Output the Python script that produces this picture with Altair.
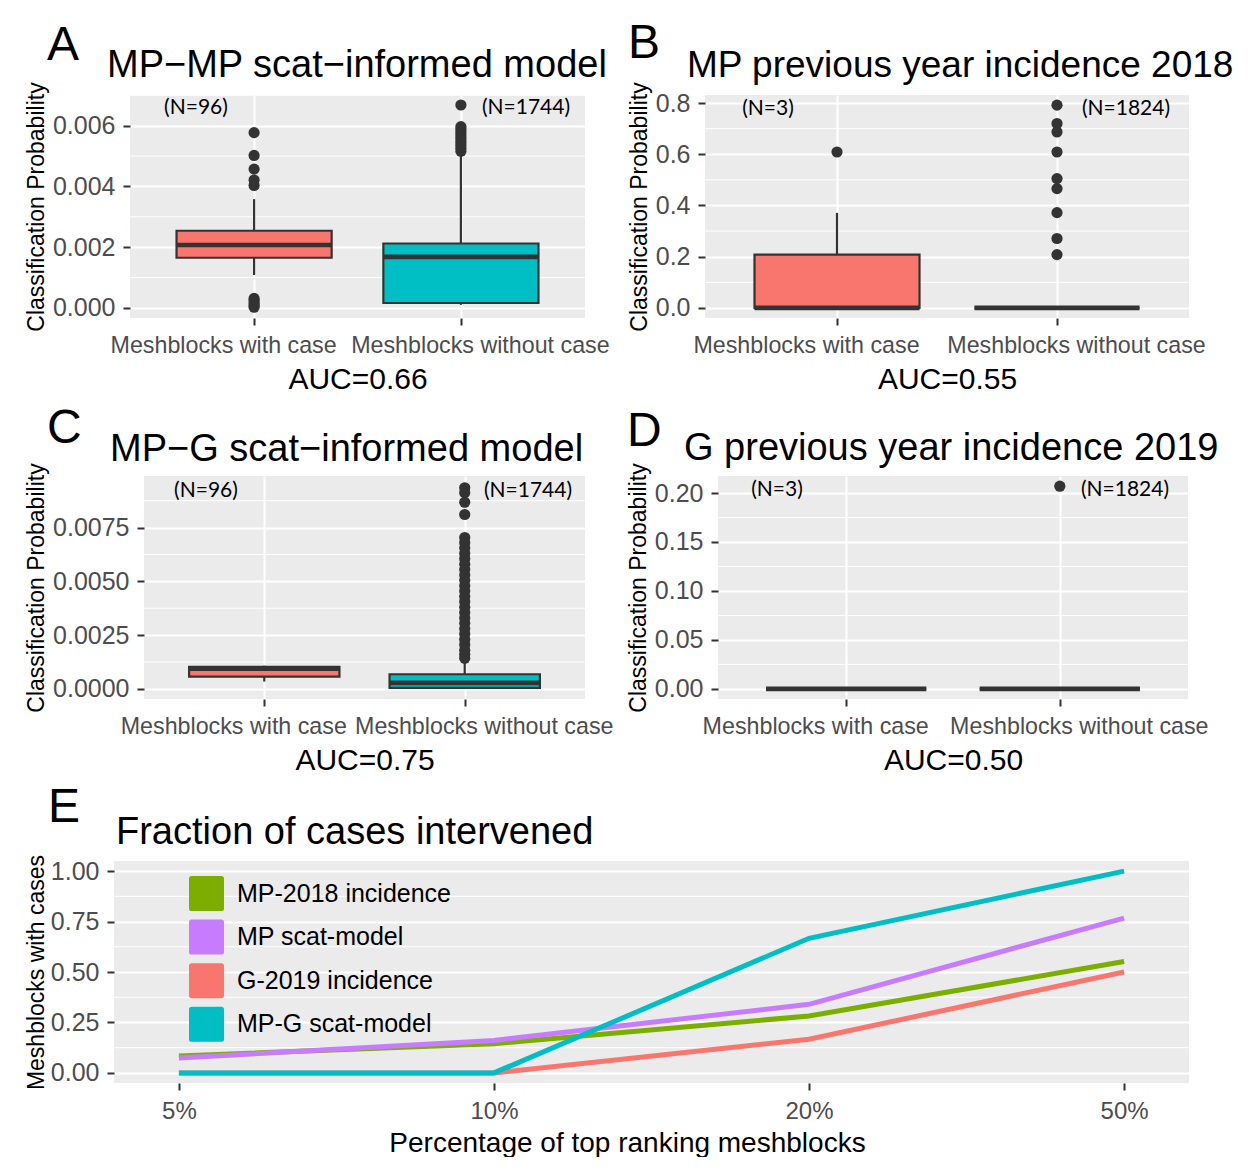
import altair as alt
import pandas as pd

FONT = "Liberation Sans"
NFONT = "Lato"
DARK = "#333333"
BG = "#EBEBEB"

# ---------------- data ----------------
groups = ["Meshblocks with case", "Meshblocks without case"]
group_pos = [1, 2]
group_fill = ["#F8766D", "#00BFC4"]

# Panel A: MP-MP scat-informed model
A_q1 = [0.00165, 0.00016]
A_med = [0.00207, 0.00168]
A_q3 = [0.00254, 0.00212]
A_lo = [0.00108, 0.00010]
A_hi = [0.00358, 0.00503]
A_out_case = [0.00577, 0.00502, 0.00457, 0.00421, 0.00403,
              0.00031, 0.00024, 0.00016, 0.00009, 0.00002]
A_out_nocase = [0.00668, 0.00597, 0.00589, 0.00580, 0.00571, 0.00562,
                0.00553, 0.00544, 0.00535, 0.00526, 0.00516]
A_n = ["(N=96)", "(N=1744)"]

# Panel B: MP previous year incidence 2018
B_q1 = [0.0, 0.0]
B_med = [0.0, 0.0]
B_q3 = [0.208, 0.0]
B_lo = [0.0, 0.0]
B_hi = [0.371, 0.0]
B_out_case = [0.609]
B_out_nocase = [0.792, 0.720, 0.687, 0.609, 0.505, 0.466, 0.372, 0.271, 0.208]
B_n = ["(N=3)", "(N=1824)"]

# Panel C: MP-G scat-informed model
C_q1 = [0.00057, 0.00005]
C_med = [0.00094, 0.00028]
C_q3 = [0.00103, 0.00068]
C_lo = [0.00034, 0.00002]
C_hi = [0.00108, 0.00127]
C_out_case = []
C_out_nocase = [0.00935, 0.00912, 0.00868, 0.00811,
                0.00704, 0.00680, 0.00655, 0.00630, 0.00605, 0.00580,
                0.00555, 0.00530, 0.00505, 0.00480, 0.00455, 0.00430,
                0.00405, 0.00380, 0.00355, 0.00330, 0.00305, 0.00280,
                0.00255, 0.00230, 0.00205, 0.00180, 0.00160, 0.00142]
C_n = ["(N=96)", "(N=1744)"]

# Panel D: G previous year incidence 2019
D_q1 = [0.0, 0.0]
D_med = [0.0, 0.0]
D_q3 = [0.0, 0.0]
D_lo = [0.0, 0.0]
D_hi = [0.0, 0.0]
D_out_case = []
D_out_nocase = [0.207]
D_n = ["(N=3)", "(N=1824)"]

# Panel E: Fraction of cases intervened
pct_labels = ["5%", "10%", "20%", "50%"]
series_names = ["MP-2018 incidence", "MP scat-model", "G-2019 incidence", "MP-G scat-model"]
series_colors = ["#7CAE00", "#C77CFF", "#F8766D", "#00BFC4"]
E_mp2018 = [0.084, 0.145, 0.282, 0.552]
E_mpscat = [0.074, 0.161, 0.340, 0.767]
E_g2019 = [0.0, 0.0, 0.167, 0.500]
E_mpg = [0.0, 0.0, 0.667, 1.000]

# ---------------- helpers ----------------
HALF_BOX = 0.375


def one_row(**kw):
    return pd.DataFrame({k: [v] for k, v in kw.items()})


def spacer():
    return alt.Chart(one_row(t="")).mark_text().encode(text="t:N").properties(
        width=1, height=1, view=alt.ViewBackground(fillOpacity=0, strokeOpacity=0))


def box_panel(letter, title, q1, med, q3, lo, hi, out_case, out_nocase, ntext, auc,
              ydom, ymajor, yminor, yfmt, w, h, lay):
    summ = pd.DataFrame({"group": groups, "pos": group_pos, "fill": group_fill,
                         "q1": q1, "med": med, "q3": q3, "lo": lo, "hi": hi})
    outl = pd.DataFrame({"pos": [1] * len(out_case) + [2] * len(out_nocase),
                         "value": out_case + out_nocase})
    minor = pd.DataFrame({"v": yminor})
    xs = alt.Scale(domain=[0.4, 2.6], nice=False, zero=False)
    ys = alt.Scale(domain=ydom, nice=False, zero=False)
    lab_expr = "datum.value == 1 ? '%s' : '%s'" % (groups[0], groups[1])
    xaxis = alt.Axis(values=group_pos, labelExpr=lab_expr, title=auc,
                     labelFontSize=23.25, titleFontSize=30, titlePadding=8,
                     labelPadding=9, labelLimit=500,
                     labelOffset={"condition": {"test": "datum.value == 1", "value": -31},
                                  "value": 19})
    yaxis = alt.Axis(values=ymajor, format=yfmt, title="Classification Probability",
                     titleFontSize=23, titlePadding=4, labelFontSize=25, labelPadding=8)

    base = alt.Chart(summ)
    l_minor = alt.Chart(minor).mark_rule(color="white", strokeWidth=1).encode(
        y=alt.Y("v:Q", scale=ys, axis=yaxis))
    l_wlo = base.mark_rule(color=DARK, strokeWidth=2.2).encode(
        x=alt.X("pos:Q", scale=xs, axis=xaxis),
        y=alt.Y("lo:Q", scale=ys, axis=yaxis), y2="q1:Q")
    l_whi = base.mark_rule(color=DARK, strokeWidth=2.2).encode(
        x=alt.X("pos:Q", scale=xs, axis=xaxis),
        y=alt.Y("q3:Q", scale=ys, axis=yaxis), y2="hi:Q")
    l_box = base.transform_calculate(
        xl="datum.pos - %s" % HALF_BOX, xr="datum.pos + %s" % HALF_BOX
    ).mark_rect(stroke=DARK, strokeWidth=2.2).encode(
        x=alt.X("xl:Q", scale=xs, axis=xaxis), x2="xr:Q",
        y=alt.Y("q1:Q", scale=ys, axis=yaxis), y2="q3:Q",
        fill=alt.Fill("fill:N", scale=None))
    l_med = base.transform_calculate(
        xl="datum.pos - %s" % HALF_BOX, xr="datum.pos + %s" % HALF_BOX
    ).mark_rule(color=DARK, strokeWidth=4.6).encode(
        x=alt.X("xl:Q", scale=xs, axis=xaxis), x2="xr:Q",
        y=alt.Y("med:Q", scale=ys, axis=yaxis))
    layers = [l_minor, l_wlo, l_whi, l_box, l_med]
    if len(outl):
        l_out = alt.Chart(outl).mark_circle(color=DARK, opacity=1, size=125).encode(
            x=alt.X("pos:Q", scale=xs, axis=xaxis),
            y=alt.Y("value:Q", scale=ys, axis=yaxis))
        layers.append(l_out)
    for i, t in enumerate(ntext):
        layers.append(alt.Chart(one_row(t=t)).mark_text(
            font=NFONT, fontSize=21, color="black", align="center", baseline="middle"
        ).encode(text="t:N", x=alt.value(lay["nx"][i]), y=alt.value(lay["ny"])))
    layers.append(alt.Chart(one_row(t=letter)).mark_text(
        font=FONT, fontSize=48, color="black", align="left", baseline="alphabetic"
    ).encode(text="t:N", x=alt.value(lay["lx"]), y=alt.value(lay["ly"])))
    layers.append(alt.Chart(one_row(t=title)).mark_text(
        font=FONT, fontSize=lay.get("tf", 38), color="black", align="left",
        baseline="alphabetic"
    ).encode(text="t:N", x=alt.value(lay["tx"]), y=alt.value(lay["ty"])))
    return alt.layer(*layers).properties(width=w, height=h)


pA = box_panel("A", "MP\u2212MP scat\u2212informed model", A_q1, A_med, A_q3, A_lo, A_hi,
               A_out_case, A_out_nocase, A_n, "AUC=0.66",
               [-0.000334, 0.00701], [0, 0.002, 0.004, 0.006], [0.001, 0.003, 0.005, 0.007],
               ".3f", 455, 223,
               dict(nx=[66, 396], ny=13, lx=-83, ly=-35, tx=-23, ty=-18))
pB = box_panel("B", "MP previous year incidence 2018", B_q1, B_med, B_q3, B_lo, B_hi,
               B_out_case, B_out_nocase, B_n, "AUC=0.55",
               [-0.0396, 0.8316], [0, 0.2, 0.4, 0.6, 0.8], [0.1, 0.3, 0.5, 0.7],
               ".1f", 484, 223,
               dict(nx=[63, 421], ny=14, lx=-77, ly=-37, tx=-18, ty=-18, tf=37))
pC = box_panel("C", "MP\u2212G scat\u2212informed model", C_q1, C_med, C_q3, C_lo, C_hi,
               C_out_case, C_out_nocase, C_n, "AUC=0.75",
               [-0.00047, 0.00990], [0, 0.0025, 0.005, 0.0075], [0.00125, 0.00375, 0.00625, 0.00875],
               ".4f", 441, 223,
               dict(nx=[62, 384], ny=15, lx=-97, ly=-33, tx=-34, ty=-15))
pD = box_panel("D", "G previous year incidence 2019", D_q1, D_med, D_q3, D_lo, D_hi,
               D_out_case, D_out_nocase, D_n, "AUC=0.50",
               [-0.01035, 0.2174], [0, 0.05, 0.1, 0.15, 0.2], [0.025, 0.075, 0.125, 0.175],
               ".2f", 470, 223,
               dict(nx=[59, 407], ny=14, lx=-91, ly=-30, tx=-34, ty=-16))

# ---------------- panel E ----------------
rows = []
for name, vals in zip(series_names, [E_mp2018, E_mpscat, E_g2019, E_mpg]):
    for i, (p, v) in enumerate(zip(pct_labels, vals)):
        rows.append({"series": name, "pct": p, "value": v, "i": i})
edf = pd.DataFrame(rows)

ex = alt.Scale(type="point", domain=pct_labels, padding=0.206)
ey = alt.Scale(domain=[-0.05, 1.05], nice=False, zero=False)
ex_axis = alt.Axis(title="Percentage of top ranking meshblocks", labelAngle=0,
                   labelFontSize=24, titleFontSize=28, labelPadding=9, titlePadding=6,
                   titleX=513)
ey_axis = alt.Axis(values=[0, 0.25, 0.5, 0.75, 1.0], format=".2f",
                   title="Meshblocks with cases", titleFontSize=23, titlePadding=2,
                   labelFontSize=25, labelPadding=8)
rounded_sq = ("M-0.85,-1L0.85,-1Q1,-1 1,-0.85L1,0.85Q1,1 0.85,1L-0.85,1"
              "Q-1,1 -1,0.85L-1,-0.85Q-1,-1 -0.85,-1Z")
ecolor = alt.Color("series:N", sort=series_names,
                   scale=alt.Scale(domain=series_names, range=series_colors),
                   legend=alt.Legend(title=None, orient="none", legendX=75, legendY=15,
                                     symbolType=rounded_sq, symbolSize=1225,
                                     symbolStrokeWidth=0,
                                     labelFontSize=25, labelFont=FONT, labelColor="black",
                                     labelOffset=13, rowPadding=8.6, padding=0,
                                     labelLimit=500, symbolOpacity=1))
e_minor = alt.Chart(pd.DataFrame({"v": [0.125, 0.375, 0.625, 0.875]})).mark_rule(
    color="white", strokeWidth=1).encode(y=alt.Y("v:Q", scale=ey, axis=ey_axis))
e_sq = alt.Chart(edf).transform_filter("datum.value > 5").mark_point(
    shape="square", filled=True, opacity=1).encode(
    x=alt.X("pct:N", scale=ex, axis=ex_axis, sort=pct_labels),
    y=alt.Y("value:Q", scale=ey, axis=ey_axis),
    color=ecolor)
e_line = alt.Chart(edf).mark_line(strokeWidth=5).encode(
    x=alt.X("pct:N", scale=ex, axis=ex_axis, sort=pct_labels),
    y=alt.Y("value:Q", scale=ey, axis=ey_axis),
    color=ecolor, order="i:Q")
e_letter = alt.Chart(one_row(t="E")).mark_text(
    font=FONT, fontSize=48, color="black", align="left", baseline="alphabetic"
).encode(text="t:N", x=alt.value(-66), y=alt.value(-39))
e_title = alt.Chart(one_row(t="Fraction of cases intervened")).mark_text(
    font=FONT, fontSize=38, color="black", align="left", baseline="alphabetic"
).encode(text="t:N", x=alt.value(2), y=alt.value(-17))
pE = alt.layer(e_minor, e_sq, e_line, e_letter, e_title).properties(width=1075, height=222)

row1 = alt.hconcat(spacer(), alt.hconcat(pA, pB, spacing=18), spacing=0)
row2 = alt.hconcat(spacer(), alt.hconcat(pC, pD, spacing=14), spacing=0)
row3 = alt.hconcat(spacer(), pE, spacing=0).resolve_legend(color="independent")
top = alt.ConcatChart(concat=[row1, row2], columns=1, align="none", spacing=10)
chart = alt.ConcatChart(concat=[top, row3], columns=1, align="none", spacing=8).resolve_legend(
    color="independent"
).properties(padding={"left": 16, "top": 12, "right": 0, "bottom": 0}).configure_view(
    fill=BG, stroke=None
).configure_axis(
    domain=False, tickColor=DARK, tickWidth=2, tickSize=7,
    labelColor="#4D4D4D", labelFont=FONT, labelFontSize=24, labelPadding=7,
    titleFont=FONT, titleFontWeight="normal", titleColor="black",
    gridColor="white", gridWidth=2
).configure_text(font=FONT)

chart.save("out.html", embed_options={"renderer": "svg", "actions": False})
